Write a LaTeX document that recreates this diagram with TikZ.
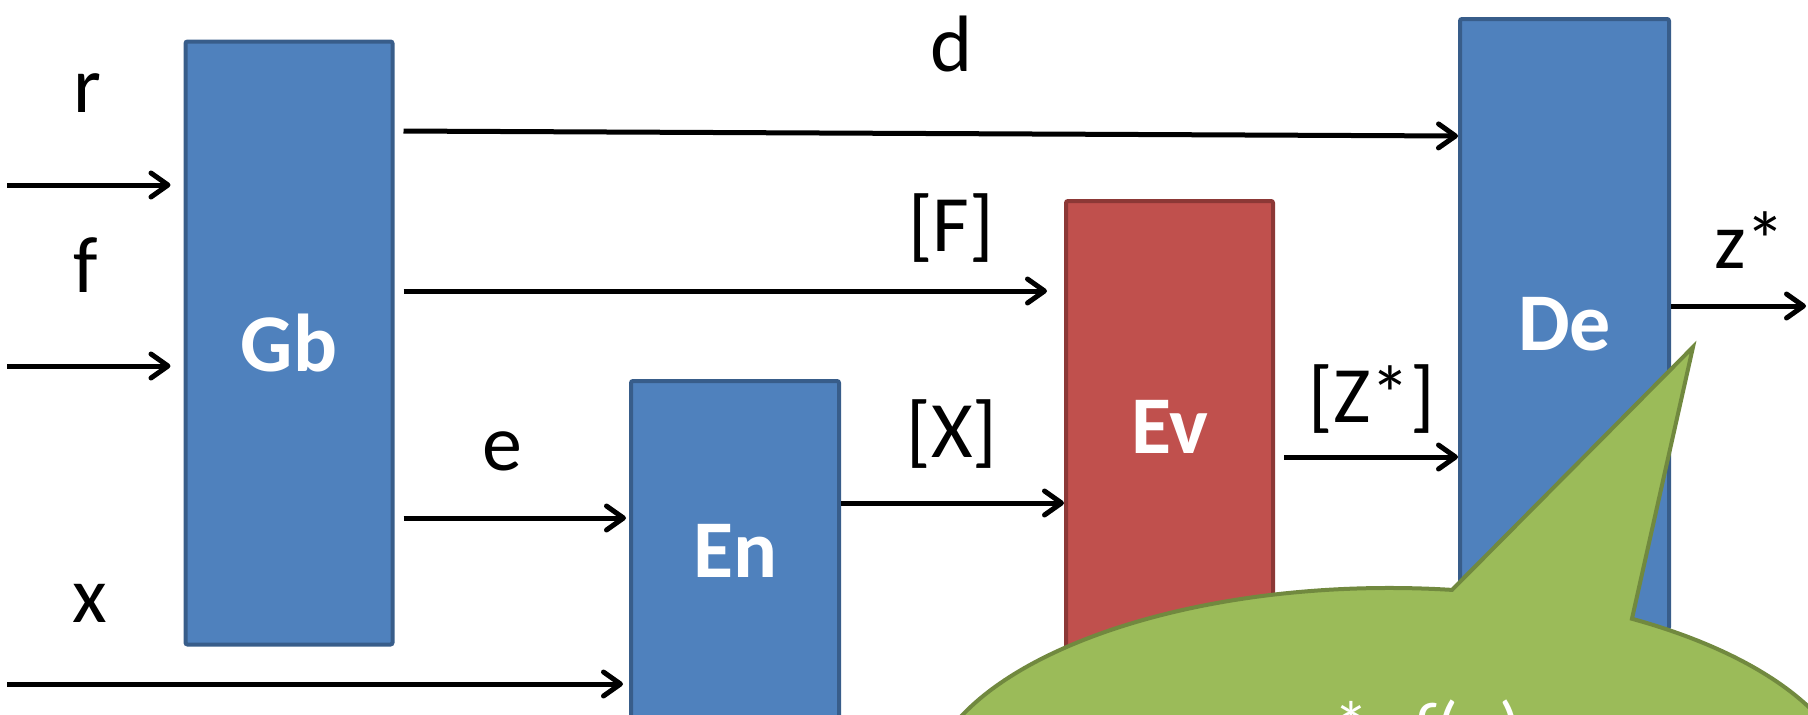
\documentclass[tikz,border=0pt]{standalone}
\usepackage{fontspec}
\setmainfont{Carlito}
\usetikzlibrary{arrows.meta}
\definecolor{bfill}{HTML}{4F81BD}
\definecolor{bdraw}{HTML}{385D8A}
\definecolor{rfill}{HTML}{C0504D}
\definecolor{rdraw}{HTML}{8C3836}
\definecolor{gfill}{HTML}{9BBB59}
\definecolor{gdraw}{HTML}{71893F}
\begin{document}
\begin{tikzpicture}[x=1pt,y=-1pt,
  box/.style={line width=4pt,rounded corners=2pt,inner sep=0pt,
    font=\fontsize{82}{98}\selectfont\bfseries,text=white},
  bluebox/.style={box,draw=bdraw,fill=bfill},
  redbox/.style={box,draw=rdraw,fill=rfill},
  lbl/.style={anchor=base,inner sep=0pt,font=\fontsize{80}{96}\selectfont},
  arr/.style={line width=5pt,-{Straight Barb[length=17pt,width=24pt,line join=round,line cap=round]}}]
\useasboundingbox (0,0) rectangle (1808,715);
\clip (0,0) rectangle (1808,715);

% blocks
\node[bluebox,minimum width=207pt,minimum height=603pt] (Gb) at (289,343) {Gb};
\node[bluebox,minimum width=208pt,minimum height=340pt] (En) at (735,551) {En};
\node[redbox,minimum width=207pt,minimum height=452pt] (Ev) at (1169.5,427) {Ev};
\node[bluebox,minimum width=209pt,minimum height=610pt] (De) at (1564.5,324) {De};

% labels
\node[lbl] (lr) at (87,112) {r};
\node[lbl] (lf) at (86,292) {f};
\node[lbl] (lx) at (90,622) {x};
\node[lbl] (ld) at (952,71) {d};
\node[lbl] (lF) at (951,251) {[F]};
\node[lbl] (le) at (502,470) {e};
\node[lbl] (lX) at (952,457) {[X]};
\node[lbl] (lZ) at (1372,422) {[Z*]};
\node[lbl] (lz) at (1750,268) {z*};

% free ends
\coordinate (rin) at (7,185);
\coordinate (fin) at (7,366);
\coordinate (xin) at (7,684);
\coordinate (zout) at (1806,306);

% connectors
\draw[arr,shorten >=13pt] (rin) -- (Gb.west |- rin);
\draw[arr,shorten >=13pt] (fin) -- (Gb.west |- fin);
\draw[arr,shorten >=6pt] (xin) -- (En.west |- xin);
\draw[arr,shorten <=9pt] (Gb.east |- 0,131) -- (De.west |- 0,136);
\draw[arr,shorten <=9pt,shorten >=17pt] (Gb.east |- 0,291) -- (Ev.west |- 0,291);
\draw[arr,shorten <=9pt,shorten >=3pt] (Gb.east |- 0,518) -- (En.west |- 0,518);
\draw[arr] (En.east |- 0,503) -- (Ev.west |- 0,503);
\draw[arr,shorten <=9pt] (Ev.east |- 0,457) -- (De.west |- 0,457);
\draw[arr] (De.east |- zout) -- (zout);

% callout
\filldraw[fill=gfill,draw=gdraw,line width=4pt,line join=miter]
  (1452,589.9) arc[start angle=82.3,end angle=418.6,x radius=465pt,y radius=210pt]
  -- (1693,347) -- cycle;
\node[anchor=base west,inner sep=0pt,text=white,font=\fontsize{72}{86}\selectfont] (ct) at (1305,752)
  {z*\hspace{3pt}=\hspace{3pt}\textit{f}(\hspace{5pt}x\hspace{5pt})};
\end{tikzpicture}
\end{document}
